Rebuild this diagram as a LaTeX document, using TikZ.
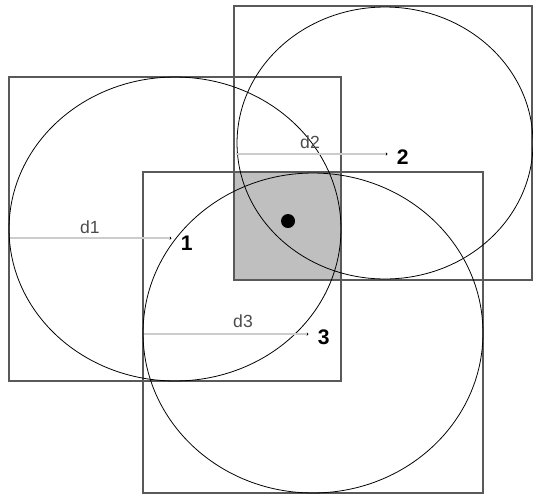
\documentclass[tikz,border=0pt]{standalone}
\usepackage{fontspec}
\setmainfont{Liberation Sans}
\usetikzlibrary{positioning}
\tikzset{
  box/.style={draw=black!65,line width=0.6pt},
  ring/.style={draw=black,line width=0.45pt},
  dline/.style={draw=black!20,line width=0.6pt},
  dlab/.style={font=\normalsize,text=black!70,inner sep=1pt},
  plab/.style={font=\large\bfseries,inner sep=1pt}
}

\begin{document}
\begin{tikzpicture}[x=0.02cm,y=-0.02cm]
        \useasboundingbox (0,0) rectangle (533,494);
        % overlap of all three areas
        \fill[black!25] (234,172) rectangle (341,280);
        % squares with their inscribed ellipses
        \draw[box] (9,77) rectangle (341,381);
        \draw[box] (234,6) rectangle (532,280);
        \draw[box] (143,172) rectangle (483,493);
        \draw[ring] (175,229) ellipse (3.32cm and 3.04cm);
        \draw[ring] (385,143) ellipse (2.96cm and 2.72cm);
        \draw[ring] (313,333) ellipse (3.4cm and 3.2cm);
        % centres and distances
        \coordinate (l1) at (10,238);
        \coordinate (l2) at (236,154);
        \coordinate (l3) at (144,334);
        \fill (170,238) coordinate (p1) circle (1.5);
        \fill (386,154) coordinate (p2) circle (1.5);
        \fill (307,334) coordinate (p3) circle (1.5);
        \draw[dline] (l1) -- (p1);
        \draw[dline] (l2) -- (p2);
        \draw[dline] (l3) -- (p3);
        \node[dlab] (d1) at (90,227) {d1};
        \node[dlab] (d2) at (310,142) {d2};
        \node[dlab] (d3) at (243,321) {d3};
        \node[plab,right=5pt of p1,yshift=-3pt] (n1) {1};
        \node[plab,right=5pt of p2,yshift=-2pt] (n2) {2};
        \node[plab,right=5pt of p3,yshift=-2pt] (n3) {3};
        % target point
        \fill (288,221) coordinate (t) circle (7);
\end{tikzpicture}
\end{document}
